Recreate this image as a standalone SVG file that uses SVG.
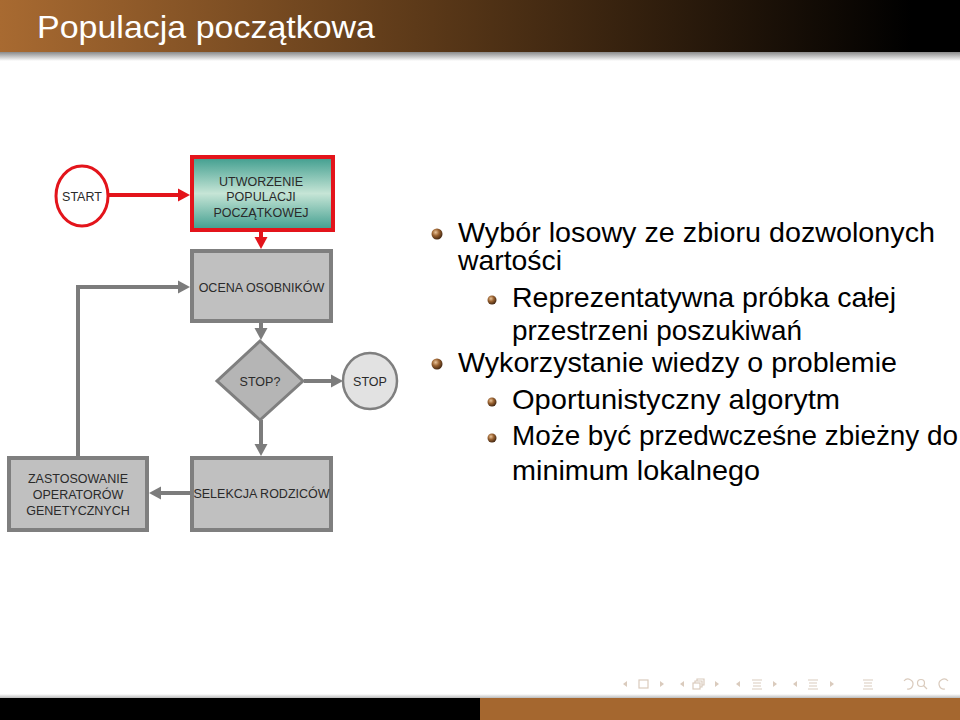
<svg xmlns="http://www.w3.org/2000/svg" width="960" height="720" viewBox="0 0 960 720">
<defs>
<linearGradient id="hdr" x1="0" y1="0" x2="1" y2="0">
<stop offset="0" stop-color="#a86a31"/>
<stop offset="0.45" stop-color="#5a3818"/>
<stop offset="0.95" stop-color="#000"/>
</linearGradient>
<linearGradient id="shadow" x1="0" y1="0" x2="0" y2="1">
<stop offset="0" stop-color="#8a8a8a"/>
<stop offset="1" stop-color="#fff"/>
</linearGradient>
<linearGradient id="shadow2" x1="0" y1="1" x2="0" y2="0">
<stop offset="0" stop-color="#bbb"/>
<stop offset="1" stop-color="#fff"/>
</linearGradient>
<linearGradient id="teal" x1="0" y1="0" x2="0" y2="1">
<stop offset="0" stop-color="#3f9d8e"/>
<stop offset="0.5" stop-color="#c6e5d6"/>
<stop offset="1" stop-color="#3f9d8e"/>
</linearGradient>
<radialGradient id="ball" cx="0.38" cy="0.35" r="0.7">
<stop offset="0" stop-color="#e9c49a"/>
<stop offset="0.45" stop-color="#9a6230"/>
<stop offset="1" stop-color="#3b2210"/>
</radialGradient>
<marker id="ahRed" markerUnits="userSpaceOnUse" markerWidth="14" markerHeight="14" refX="4" refY="7" orient="auto" viewBox="0 0 14 14">
<path d="M0,0.5 L12,7 L0,13.5 z" fill="#e3141b"/>
</marker>
<marker id="ahGray" markerUnits="userSpaceOnUse" markerWidth="14" markerHeight="14" refX="4" refY="7" orient="auto" viewBox="0 0 14 14">
<path d="M0,0.5 L12,7 L0,13.5 z" fill="#7c7c7c"/>
</marker>
<style>
.title{font-family:"Liberation Sans","DejaVu Sans",sans-serif;font-size:32px;fill:#fff}
.b{font-family:"Liberation Sans","DejaVu Sans",sans-serif;font-size:28px;fill:#000}
.fc{font-family:"Liberation Sans",Arial,sans-serif;font-size:12.5px;fill:#2a2a2a;text-anchor:middle}
.box{fill:#c0c0c0;stroke:#7f7f7f;stroke-width:4}
.red{fill:none;stroke:#e3141b;stroke-width:4}
.gray{fill:none;stroke:#7c7c7c;stroke-width:4}
.nav{fill:none;stroke:#dacbbd;stroke-width:1.2}
.navf{fill:#dacbbd}
</style>
</defs>
<rect width="960" height="720" fill="#fff"/>
<!-- header -->
<rect x="0" y="0" width="960" height="52" fill="url(#hdr)"/>
<rect x="0" y="52" width="960" height="9" fill="url(#shadow)"/>
<text class="title" x="37" y="38" textLength="338" lengthAdjust="spacingAndGlyphs">Populacja początkowa</text>

<!-- connectors -->
<g id="connectors">
<path class="red" d="M108,195 H182" marker-end="url(#ahRed)"/>
<path class="red" d="M261,232 V241" marker-end="url(#ahRed)"/>
<path class="gray" d="M261,323 V332" marker-end="url(#ahGray)"/>
<path class="gray" d="M304,381 H335" marker-end="url(#ahGray)"/>
<path class="gray" d="M261,420 V448" marker-end="url(#ahGray)"/>
<path class="gray" d="M190,493 H157" marker-end="url(#ahGray)"/>
<path class="gray" d="M78,456 V287 H182" marker-end="url(#ahGray)"/>
</g>

<g id="start">
<ellipse cx="82" cy="196" rx="26" ry="30" fill="#fff" stroke="#e3141b" stroke-width="3"/>
<text class="fc" x="82" y="200.5">START</text>
</g>
<g id="utworzenie">
<rect x="192" y="157" width="141" height="73" fill="url(#teal)" stroke="#e3141b" stroke-width="4"/>
<text class="fc" x="261" y="185.5">UTWORZENIE</text>
<text class="fc" x="261" y="200.5">POPULACJI</text>
<text class="fc" x="261" y="216.5">POCZĄTKOWEJ</text>
</g>
<g id="ocena">
<rect class="box" x="192" y="251" width="139" height="70"/>
<text class="fc" x="261.5" y="291.5">OCENA OSOBNIKÓW</text>
</g>
<g id="stopq">
<polygon points="260,341 303,381 260,420 217,381" fill="#b5b5b5" stroke="#7f7f7f" stroke-width="3"/>
<text class="fc" x="260" y="386">STOP?</text>
</g>
<g id="stop">
<ellipse cx="370" cy="381" rx="27" ry="28" fill="#e2e2e2" stroke="#7f7f7f" stroke-width="2.5"/>
<text class="fc" x="370" y="385.5">STOP</text>
</g>
<g id="selekcja">
<rect class="box" x="192" y="458" width="139" height="72"/>
<text class="fc" x="261.5" y="497.5">SELEKCJA RODZICÓW</text>
</g>
<g id="zastosowanie">
<rect class="box" x="9" y="458" width="138" height="72"/>
<text class="fc" x="78" y="482.5">ZASTOSOWANIE</text>
<text class="fc" x="78" y="498.5">OPERATORÓW</text>
<text class="fc" x="78" y="514.5">GENETYCZNYCH</text>
</g>

<!-- bullets -->
<g id="bullets">
<circle cx="437" cy="234" r="5.5" fill="url(#ball)"/>
<text class="b" x="458" y="242" textLength="477" lengthAdjust="spacingAndGlyphs">Wybór losowy ze zbioru dozwolonych</text>
<text class="b" x="458" y="270" textLength="104" lengthAdjust="spacingAndGlyphs">wartości</text>
<circle cx="492" cy="300" r="4.5" fill="url(#ball)"/>
<text class="b" x="512" y="307" textLength="384" lengthAdjust="spacingAndGlyphs">Reprezentatywna próbka całej</text>
<text class="b" x="512" y="340" textLength="290" lengthAdjust="spacingAndGlyphs">przestrzeni poszukiwań</text>
<circle cx="437" cy="364" r="5.5" fill="url(#ball)"/>
<text class="b" x="458" y="372" textLength="439" lengthAdjust="spacingAndGlyphs">Wykorzystanie wiedzy o problemie</text>
<circle cx="492" cy="402" r="4.5" fill="url(#ball)"/>
<text class="b" x="512" y="409" textLength="328" lengthAdjust="spacingAndGlyphs">Oportunistyczny algorytm</text>
<circle cx="492" cy="438" r="4.5" fill="url(#ball)"/>
<text class="b" x="512" y="445" textLength="446" lengthAdjust="spacingAndGlyphs">Może być przedwcześne zbieżny do</text>
<text class="b" x="512" y="480" textLength="248" lengthAdjust="spacingAndGlyphs">minimum lokalnego</text>
</g>

<!-- navigation symbols -->
<g id="nav">
<polygon class="navf" points="627,681 623,684 627,687"/>
<rect class="nav" x="639" y="680" width="9" height="8"/>
<polygon class="navf" points="660,681 664,684 660,687"/>
<polygon class="navf" points="684,681 680,684 684,687"/>
<rect class="nav" x="693" y="683" width="7" height="6"/>
<path class="nav" d="M695,683 V681 H702 V687 H700 M697,681 V679 H704 V685 H702"/>
<polygon class="navf" points="715,681 719,684 715,687"/>
<polygon class="navf" points="740,681 736,684 740,687"/>
<path class="nav" d="M752,680 H762 M753,683 H761 M753,686 H761 M752,689 H762"/>
<polygon class="navf" points="773,681 777,684 773,687"/>
<polygon class="navf" points="797,681 793,684 797,687"/>
<path class="nav" d="M808,680 H818 M809,683 H817 M809,686 H817 M808,689 H818"/>
<polygon class="navf" points="830,681 834,684 830,687"/>
<path class="nav" d="M863,680 H873 M864,683 H872 M864,686 H872 M863,689 H873"/>
<path class="nav" d="M904,681 A5,5 0 1 1 907,689"/>
<circle class="nav" cx="921" cy="683" r="3.5"/>
<path class="nav" d="M923.5,685.5 L927,689"/>
<path class="nav" d="M948,681 A5,5 0 1 0 945,689"/>
</g>

<!-- footer -->
<rect x="0" y="694" width="960" height="4" fill="url(#shadow2)"/>
<rect x="0" y="698" width="480" height="22" fill="#000"/>
<rect x="480" y="698" width="480" height="22" fill="#a5672f"/>
</svg>
